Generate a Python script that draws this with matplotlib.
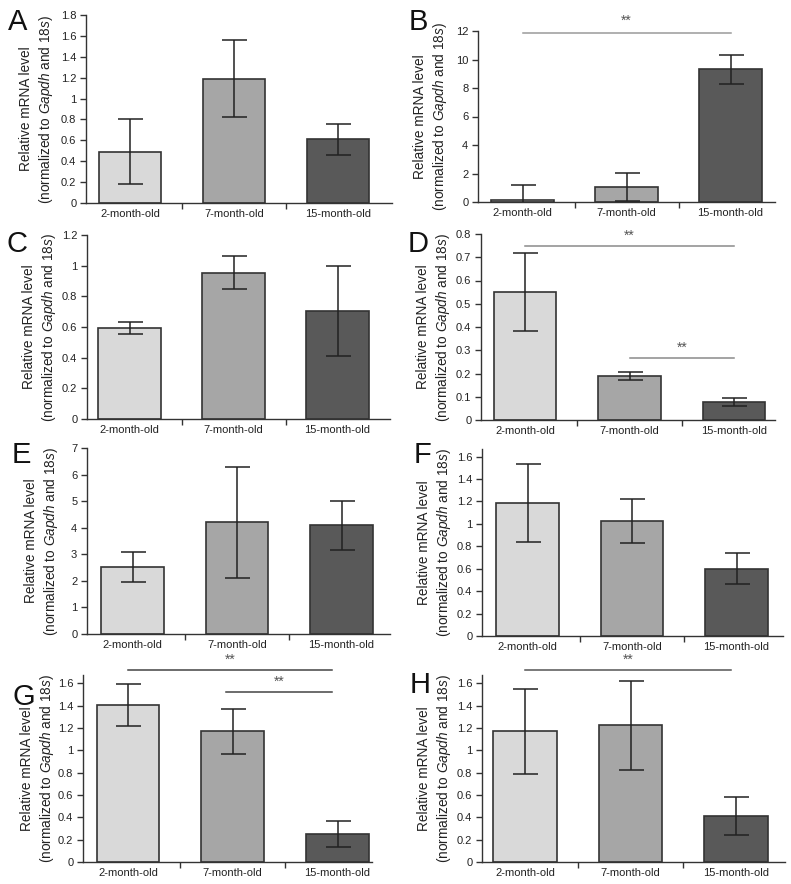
import numpy as np
import matplotlib
matplotlib.use("Agg")
import matplotlib.pyplot as plt
from matplotlib.ticker import FuncFormatter

plt.rcParams['font.family'] = ['Liberation Sans', 'DejaVu Sans']
plt.rcParams['mathtext.fontset'] = 'custom'
plt.rcParams['mathtext.rm'] = 'Liberation Sans'
plt.rcParams['mathtext.it'] = 'Liberation Sans:italic'

ages = ['2-month-old', '7-month-old', '15-month-old']
bar_colors = ['#d9d9d9', '#a6a6a6', '#595959']

# values (mean, error)
a_mean = [0.49, 1.19, 0.61]
a_err = [0.31, 0.37, 0.15]
b_mean = [0.16, 1.05, 9.33]
b_err = [1.0, 1.0, 1.02]
c_mean = [0.592, 0.955, 0.705]
c_err = [0.038, 0.107, 0.293]
d_mean = [0.549, 0.189, 0.076]
d_err = [0.168, 0.019, 0.017]
e_mean = [2.51, 4.2, 4.1]
e_err = [0.56, 2.08, 0.92]
f_mean = [1.184, 1.026, 0.601]
f_err = [0.347, 0.195, 0.135]
g_mean = [1.406, 1.169, 0.251]
g_err = [0.185, 0.202, 0.12]
h_mean = [1.169, 1.223, 0.413]
h_err = [0.377, 0.398, 0.169]

W, H = 791, 884
fig = plt.figure(figsize=(W / 100, H / 100), dpi=100)

ylab = "Relative mRNA level\n(normalized to $\\it{Gapdh}$ and $\\it{18s}$)"

# letter, mean, err, ymax, ystep, ytop, box px (l, t, r, b), x0 px, dx px,
# letter pos, label offset px, significance (x1, x2, y_line, y_star, colour)
panels = [
    ('A', a_mean, a_err, 1.8, 0.2, 1.8, (86, 15, 392, 203), 130, 104, (8, 30), -31, []),
    ('B', b_mean, b_err, 12, 2, 12, (478, 31, 775, 202), 522.5, 104, (409, 30), -29,
     [(0, 2, 11.86, 12.2, '#9a9a9a')]),
    ('C', c_mean, c_err, 1.2, 0.2, 1.2, (87, 235, 390, 419), 129.5, 104, (7, 252), -29, []),
    ('D', d_mean, d_err, 0.8, 0.1, 0.8, (481, 234, 775, 420), 525, 104.5, (408, 252), -29,
     [(0, 2, 0.748, 0.762, '#8a8a8a'), (1, 2, 0.267, 0.281, '#8a8a8a')]),
    ('E', e_mean, e_err, 7, 1, 7, (87, 448, 390, 634), 132.5, 104.5, (12, 463), -27, []),
    ('F', f_mean, f_err, 1.6, 0.2, 1.668, (482, 449, 783, 636), 527.5, 104.5, (414, 463), -29, []),
    ('G', g_mean, g_err, 1.6, 0.2, 1.675, (83, 675, 372, 862), 128, 104.75, (12, 705), -27,
     [(0, 1.95, 1.72, 1.75, '#444444'), (0.94, 1.95, 1.52, 1.55, '#444444')]),
    ('H', h_mean, h_err, 1.6, 0.2, 1.675, (482, 675, 785, 862), 525, 105.5, (410, 693), -29,
     [(0, 1.95, 1.72, 1.75, '#555555')]),
]

fmt = FuncFormatter(lambda v, p: '%g' % round(v, 3))

for (letter, mean, err, ymax, ystep, ytop, box, x0, dx, lpos, loff, sig) in panels:
    l, t, r, b = box
    ax = fig.add_axes([l / W, 1 - b / H, (r - l) / W, (b - t) / H])
    x = np.arange(len(ages))
    ax.bar(x, mean, width=0.6, color=bar_colors, edgecolor='#333333', linewidth=1.2, zorder=2)
    ax.errorbar(x, mean, yerr=err, fmt='none', ecolor='#222222', elinewidth=1.1,
                capsize=9, capthick=1.1, zorder=3)
    ax.set_xlim((l - x0) / dx, (r - x0) / dx)
    ax.set_ylim(0, ytop)
    ax.set_yticks(np.arange(0, ymax + ystep / 2, ystep))
    ax.yaxis.set_major_formatter(fmt)
    ax.set_xticks(x)
    ax.set_xticklabels(ages)
    ax.set_xticks([0.5, 1.5], minor=True)
    ax.tick_params(axis='x', which='major', length=0, pad=4, labelsize=8, labelcolor='#222222')
    ax.tick_params(axis='x', which='minor', length=4, width=1, color='#333333', direction='out')
    ax.tick_params(axis='y', length=4, width=1, color='#333333', pad=3,
                   labelsize=8, labelcolor='#222222')
    for side in ['top', 'right']:
        ax.spines[side].set_visible(False)
    for side in ['left', 'bottom']:
        ax.spines[side].set_color('#333333')
        ax.spines[side].set_linewidth(1)
    ax.set_ylabel(ylab, fontsize=9.8, color='#222222', linespacing=1.3)
    ax.yaxis.set_label_coords(loff / (r - l), 0.5)
    for (x1, x2, yl, ys, col) in sig:
        ax.plot([x1, x2], [yl, yl], color=col, lw=1.1, clip_on=False, zorder=4)
        ax.text((x1 + x2) / 2, ys, '**', ha='center', va='bottom', fontsize=10,
                color='#555555', clip_on=False)
    fig.text(lpos[0] / W, 1 - lpos[1] / H, letter, fontsize=21, ha='left',
             va='baseline', color='#111111')

fig.savefig('out.png', dpi=100)
